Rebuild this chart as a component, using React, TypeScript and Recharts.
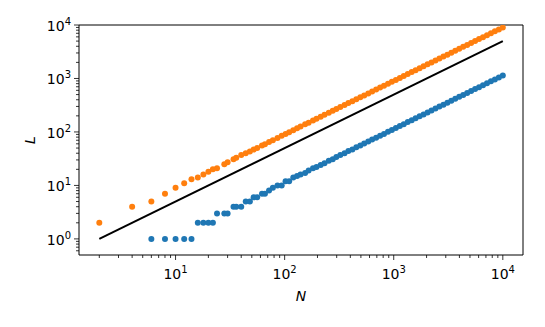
import { Label, ReferenceArea, Scatter, ScatterChart, XAxis, YAxis } from "recharts";

const nValues = [
  2, 4, 6, 8, 10, 12, 14, 16, 18, 20, 22, 24, 28, 30, 34, 36, 40, 44, 48, 52,
  56, 62, 66, 72, 78, 86, 94, 102, 110, 120, 130, 140, 154, 166, 182, 196, 214, 232, 254, 276,
  298, 324, 354, 384, 418, 454, 494, 536, 584, 634, 690, 750, 814, 886, 962, 1046, 1138, 1236, 1344, 1462,
  1588, 1728, 1878, 2042, 2220, 2414, 2624, 2854, 3102, 3372, 3666, 3986, 4334, 4712, 5124, 5570, 6056, 6584, 7158, 7782,
  8460, 9198, 10000,
];

const orangeL = [
  2, 4, 5, 7, 9, 11, 13, 14, 16, 18, 20, 21, 25, 27, 31, 33, 37, 40, 43, 47,
  50, 56, 59, 65, 70, 77, 85, 92, 99, 108, 117, 126, 139, 149, 164, 176, 193, 209, 229, 248,
  268, 292, 319, 346, 376, 409, 445, 482, 526, 571, 621, 675, 733, 797, 866, 941, 1024, 1112, 1210, 1316,
  1429, 1555, 1690, 1838, 1998, 2173, 2362, 2569, 2792, 3035, 3299, 3587, 3901, 4241, 4612, 5013, 5450, 5926, 6442, 7004,
  7614, 8278, 8950,
];

// first two runs gave L = 0, so nothing is drawn there on a log axis
const blueL = [
  null, null, 1, 1, 1, 1, 1, 2, 2, 2, 2, 3, 3, 3, 4, 4, 4, 5, 5, 6,
  6, 7, 7, 8, 9, 10, 10, 12, 12, 14, 15, 16, 17, 19, 21, 22, 24, 26, 29, 31,
  34, 37, 40, 44, 47, 52, 56, 61, 66, 72, 78, 85, 92, 101, 109, 119, 129, 140, 153, 166,
  180, 196, 213, 232, 252, 274, 298, 324, 352, 383, 417, 453, 492, 535, 582, 633, 688, 748, 813, 884,
  961, 1045, 1136,
];

// reference line L = N / 2
const refN = [2, 10000];
const refL = [1, 5000];

const xTicks = [
  2, 3, 4, 5, 6, 7, 8, 9, 10, 20, 30, 40, 50, 60, 70, 80, 90, 100, 200, 300, 400, 500, 600, 700, 800, 900,
  1000, 2000, 3000, 4000, 5000, 6000, 7000, 8000, 9000, 10000,
];
const yTicks = [
  0.6, 0.7, 0.8, 0.9, 1, 2, 3, 4, 5, 6, 7, 8, 9, 10, 20, 30, 40, 50, 60, 70, 80, 90, 100, 200, 300, 400, 500,
  600, 700, 800, 900, 1000, 2000, 3000, 4000, 5000, 6000, 7000, 8000, 9000, 10000,
];

const X_DOMAIN: [number, number] = [1.303, 15310];
const Y_DOMAIN: [number, number] = [0.5, 10000];

const FONT = "DejaVu Sans, sans-serif";

const orangeData = nValues.map((n, i) => ({ x: n, y: orangeL[i] }));
const blueData = nValues
  .map((n, i) => ({ x: n, y: blueL[i] }))
  .filter((d) => d.y != null);
const refData = refN.map((n, i) => ({ x: n, y: refL[i] }));

function isMajor(v: number) {
  const e = Math.log10(v);
  return Math.abs(e - Math.round(e)) < 1e-9;
}

function XTick({ x, y, payload }: any) {
  const v = payload.value;
  const major = isMajor(v);
  return (
    <g>
      <line x1={x} x2={x} y1={y} y2={y + (major ? 5 : 3)} stroke="#000" strokeWidth={0.8} />
      {major && (
        <text x={x} y={y + 24} textAnchor="middle" fontSize={14} fontFamily={FONT} fill="#000">
          10
          <tspan dy={-6} fontSize={10}>
            {Math.round(Math.log10(v))}
          </tspan>
        </text>
      )}
    </g>
  );
}

function YTick({ x, y, payload }: any) {
  const v = payload.value;
  const major = isMajor(v);
  return (
    <g>
      <line x1={x - (major ? 5 : 3)} x2={x} y1={y} y2={y} stroke="#000" strokeWidth={0.8} />
      {major && (
        <text x={x - 8} y={y + 6} textAnchor="end" fontSize={14} fontFamily={FONT} fill="#000">
          10
          <tspan dy={-6} fontSize={10}>
            {Math.round(Math.log10(v))}
          </tspan>
        </text>
      )}
    </g>
  );
}

const dot = (color: string) => (props: any) => <circle cx={props.cx} cy={props.cy} r={3} fill={color} />;

export default function App() {
  return (
    <div style={{ position: "absolute", left: 0, top: 0, width: 545, height: 327, background: "#fff" }}>
      <ScatterChart width={545} height={327} margin={{ top: 25, right: 22, bottom: 0, left: 0 }}>
        <XAxis
          dataKey="x"
          type="number"
          scale="log"
          domain={X_DOMAIN}
          allowDataOverflow
          ticks={xTicks}
          interval={0}
          height={72}
          tickSize={0}
          tickMargin={0}
          axisLine={false}
          tick={(p: any) => <XTick {...p} />}
        >
          <Label
            content={() => (
              <text x={301} y={301} textAnchor="middle" fontSize={14} fontStyle="italic" fontFamily={FONT} fill="#000">
                N
              </text>
            )}
          />
        </XAxis>
        <YAxis
          dataKey="y"
          type="number"
          scale="log"
          domain={Y_DOMAIN}
          allowDataOverflow
          ticks={yTicks}
          interval={0}
          width={79}
          tickSize={0}
          tickMargin={0}
          axisLine={false}
          tick={(p: any) => <YTick {...p} />}
        >
          <Label
            content={() => (
              <text
                transform="translate(35,140) rotate(-90)"
                textAnchor="middle"
                fontSize={14}
                fontStyle="italic"
                fontFamily={FONT}
                fill="#000"
              >
                L
              </text>
            )}
          />
        </YAxis>
        <Scatter data={orangeData} fill="#ff7f0e" shape={dot("#ff7f0e")} isAnimationActive={false} />
        <Scatter data={blueData} fill="#1f77b4" shape={dot("#1f77b4")} isAnimationActive={false} />
        <Scatter
          data={refData}
          line={{ stroke: "#000", strokeWidth: 2 }}
          shape={() => <g />}
          isAnimationActive={false}
        />
        <ReferenceArea
          x1={X_DOMAIN[0]}
          x2={X_DOMAIN[1]}
          y1={Y_DOMAIN[0]}
          y2={Y_DOMAIN[1]}
          fill="none"
          stroke="#000"
          strokeWidth={1}
        />
      </ScatterChart>
    </div>
  );
}
